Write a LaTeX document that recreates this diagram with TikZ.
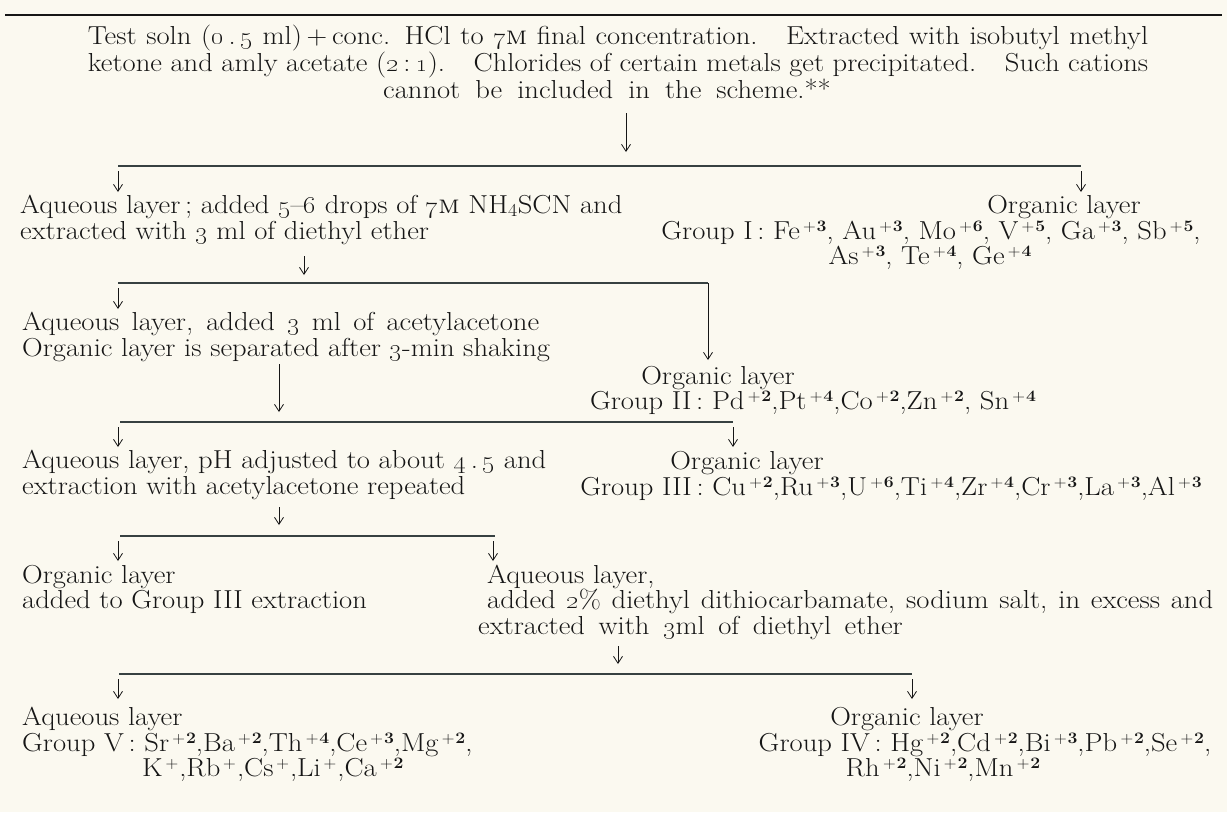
\documentclass[tikz,border=0pt]{standalone}
\usepackage{graphicx}
\usetikzlibrary{arrows.meta}
\newcommand\os[1]{\oldstylenums{#1}}
\newcommand\W[1]{\scalebox{1.1}[1]{#1}}
\newcommand\sups[1]{\raisebox{0.7ex}{\fontsize{16}{16}\selectfont #1}}
\newcommand\ion[2]{#1\kern3pt\sups{+\kern0.8pt\textbf{#2}}}
\newcommand\ionp[1]{#1\kern2.5pt\sups{+}\kern1pt}
\definecolor{paper}{RGB}{251,249,240}
\definecolor{ink}{RGB}{22,22,22}
\definecolor{rulec}{RGB}{55,65,65}
\begin{document}
\begin{tikzpicture}[x=1pt,y=-1pt,
  txt/.style={inner sep=0pt, anchor=base west, font=\fontsize{26}{26}\selectfont, text=ink},
  ctxt/.style={txt, anchor=base},
  branch/.style={draw=rulec, line width=1.1pt},
  arr/.style={draw=ink, line width=0.8pt, -{Straight Barb[length=7pt,width=9pt]}},
]
\fill[paper] (0,0) rectangle (1227,812);
\useasboundingbox (0,0) rectangle (1227,812);

% top rule
\coordinate (r0) at (5,15); \coordinate (r1) at (1222,15);
\draw[draw=ink, line width=2.5pt] (r0) -- (r1);

% opening paragraph
\node[ctxt] (p1a) at (618,44) {\W{\makebox[964pt][s]{Test soln (\os{0}\,.\,\os{5} ml)\,+\,conc. HCl to \os{7}\textsc{m} final concentration.\quad Extracted with isobutyl methyl}}};
\node[ctxt] (p1b) at (618,71) {\W{\makebox[964pt][s]{ketone and amly acetate (\os{2}\,:\,\os{1}).\quad Chlorides of certain metals get precipitated.\quad Such cations}}};
\node[ctxt] (p1c) at (607,98) {\W{\makebox[407pt][s]{cannot be included in the scheme.**}}};

\coordinate (a0s) at (626,113); \coordinate (a0e) at (626,152);
\draw[arr] (a0s) -- (a0e);

% branch 1
\coordinate (b1l) at (118,166); \coordinate (b1r) at (1081,166);
\draw[branch] (b1l) -- (b1r);
\coordinate (b1la) at (118,171); \coordinate (b1lb) at (118,192);
\coordinate (b1ra) at (1081,171); \coordinate (b1rb) at (1081,192);
\draw[arr] (b1la) -- (b1lb);
\draw[arr] (b1ra) -- (b1rb);

\node[txt] (q1a) at (20,213) {\W{Aqueous layer\,; added \os{5}\textendash\os{6} drops of \os{7}\textsc{m} NH\textsubscript{4}SCN and}};
\node[txt] (q1b) at (20,239) {\W{extracted with \os{3} ml of diethyl ether}};

\node[ctxt] (o1a) at (1064,213) {\W{Organic layer}};
\node[ctxt] (o1b) at (931,239) {\W{Group I\,: \ion{Fe}{3}, \ion{Au}{3}, \ion{Mo}{6}, \ion{V}{5}, \ion{Ga}{3}, \ion{Sb}{5},}};
\node[ctxt] (o1c) at (930,264) {\W{\ion{As}{3}, \ion{Te}{4}, \ion{Ge}{4}}};

\coordinate (a1s) at (304,256); \coordinate (a1e) at (304,275);
\draw[arr] (a1s) -- (a1e);

% branch 2
\coordinate (b2l) at (118,283); \coordinate (b2r) at (708,283);
\draw[branch] (b2l) -- (b2r);
\coordinate (b2la) at (118,288); \coordinate (b2lb) at (118,309);
\draw[arr] (b2la) -- (b2lb);
\coordinate (b2rb) at (708,360);
\draw[arr] (b2r) -- (b2rb);

\node[txt] (q2a) at (22,330) {\W{\makebox[470pt][s]{Aqueous layer, added \os{3} ml of acetylacetone}}};
\node[txt] (q2b) at (22,356) {\W{Organic layer is separated after \os{3}-min shaking}};

\node[ctxt] (o2a) at (718,384) {\W{Organic layer}};
\node[ctxt] (o2b) at (813,409) {\W{Group II\,: \ion{Pd}{2},\ion{Pt}{4},\ion{Co}{2},\ion{Zn}{2}, \ion{Sn}{4}}};

\coordinate (a2s) at (279,364); \coordinate (a2e) at (279,412);
\draw[arr] (a2s) -- (a2e);

% branch 3
\coordinate (b3l) at (120,422); \coordinate (b3r) at (733,422);
\draw[branch] (b3l) -- (b3r);
\coordinate (b3la) at (118,427); \coordinate (b3lb) at (118,447);
\coordinate (b3ra) at (733,427); \coordinate (b3rb) at (733,447);
\draw[arr] (b3la) -- (b3lb);
\draw[arr] (b3ra) -- (b3rb);

\node[txt] (q3a) at (22,468) {\W{Aqueous layer, pH adjusted to about \os{4}\,.\,\os{5} and}};
\node[txt] (q3b) at (22,494) {\W{extraction with acetylacetone repeated}};

\node[ctxt] (o3a) at (747,469) {\W{Organic layer}};
\node[ctxt] (o3b) at (891,495) {\W{Group III\,: \ion{Cu}{2},\ion{Ru}{3},\ion{U}{6},\ion{Ti}{4},\ion{Zr}{4},\ion{Cr}{3},\ion{La}{3},\ion{Al}{3}}};

\coordinate (a3s) at (279,507); \coordinate (a3e) at (279,525);
\draw[arr] (a3s) -- (a3e);

% branch 4
\coordinate (b4l) at (120,536); \coordinate (b4r) at (495,536);
\draw[branch] (b4l) -- (b4r);
\coordinate (b4la) at (118,541); \coordinate (b4lb) at (118,561);
\coordinate (b4ra) at (493,541); \coordinate (b4rb) at (493,561);
\draw[arr] (b4la) -- (b4lb);
\draw[arr] (b4ra) -- (b4rb);

\node[txt] (o4a) at (22,583) {\W{Organic layer}};
\node[txt] (o4b) at (22,608) {\W{added to Group III extraction}};

\node[txt] (q4a) at (487,583) {\W{Aqueous layer,}};
\node[txt] (q4b) at (487,608) {\W{\makebox[660pt][s]{added \os{2}\% diethyl dithiocarbamate, sodium salt, in excess and}}};
\node[txt] (q4c) at (478,634) {\W{\makebox[386pt][s]{extracted with \os{3}ml of diethyl ether}}};

\coordinate (a4s) at (618,646); \coordinate (a4e) at (618,664);
\draw[arr] (a4s) -- (a4e);

% branch 5
\coordinate (b5l) at (119,674); \coordinate (b5r) at (912,674);
\draw[branch] (b5l) -- (b5r);
\coordinate (b5la) at (118,679); \coordinate (b5lb) at (118,699);
\coordinate (b5ra) at (912,679); \coordinate (b5rb) at (912,699);
\draw[arr] (b5la) -- (b5lb);
\draw[arr] (b5ra) -- (b5rb);

\node[txt] (q5a) at (22,725) {\W{Aqueous layer}};
\node[txt] (q5b) at (22,751) {\W{Group V\,: \ion{Sr}{2},\ion{Ba}{2},\ion{Th}{4},\ion{Ce}{3},\ion{Mg}{2},}};
\node[txt] (q5c) at (142,776) {\W{\ionp{K},\ionp{Rb},\ionp{Cs},\ionp{Li},\ion{Ca}{2}}};

\node[ctxt] (o5a) at (907,725) {\W{Organic layer}};
\node[ctxt] (o5b) at (985,751) {\W{Group IV\,: \ion{Hg}{2},\ion{Cd}{2},\ion{Bi}{3},\ion{Pb}{2},\ion{Se}{2},}};
\node[ctxt] (o5c) at (943,776) {\W{\ion{Rh}{2},\ion{Ni}{2},\ion{Mn}{2}}};
\end{tikzpicture}
\end{document}
